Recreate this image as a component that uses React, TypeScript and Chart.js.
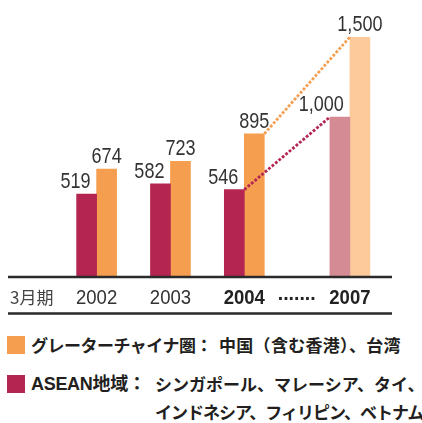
import React, { useEffect, useRef } from "react";
import { Chart, registerables } from "chart.js";

Chart.register(...registerables);

// ---- data ----
const categories = ["2002", "2003", "2004", "2007"];
const aseanValues = [519, 582, 546, 1000];
const chinaValues = [674, 723, 895, 1500];
const projected = [false, false, false, true];
const boldCategories = ["2004", "2007"];
const periodLabel = "3月期";
const gapLabel = ".......";
const chinaLegendHead = "グレーターチャイナ圏：";
const chinaLegendBody = "中国（含む香港）、台湾";
const aseanLegendHead = "ASEAN地域：";
const aseanLegendLine1 = "シンガポール、マレーシア、タイ、";
const aseanLegendLine2 = "インドネシア、フィリピン、ベトナム";

// ---- layout (x-scale slots, not data) ----
const SLOT = [1, 2, 3, 4.43];
const GAP_SLOT = 3.71;

const MAGENTA = "#B42551";
const ORANGE = "#F59E50";
const PINK = "#D48B93";
const PEACH = "#FDCB9B";
const TEXT = "#333333";
const AXIS = "#2a2a2a";

const overlay = {
  id: "overlay",
  afterDatasetsDraw(chart: any) {
    const { ctx, chartArea, scales } = chart;
    const xs = scales.x;
    const m0 = chart.getDatasetMeta(0).data.map((b: any) => b.getProps(["x", "y", "width"], true));
    const m1 = chart.getDatasetMeta(1).data.map((b: any) => b.getProps(["x", "y", "width"], true));
    const last = categories.length - 1;

    ctx.save();
    // dotted connectors
    const conn = (a: any, b: any, color: string) => {
      ctx.beginPath();
      ctx.setLineDash([2.8, 1.7]);
      ctx.lineWidth = 2.8;
      ctx.strokeStyle = color;
      ctx.moveTo(a.x + a.width / 2, a.y);
      ctx.lineTo(b.x - b.width / 2, b.y);
      ctx.stroke();
    };
    conn(m0[last - 1], m0[last], MAGENTA);
    conn(m1[last - 1], m1[last], ORANGE);
    ctx.setLineDash([]);

    // axis rules
    ctx.strokeStyle = AXIS;
    ctx.lineWidth = 2.5;
    const rule = (y: number) => {
      ctx.beginPath();
      ctx.moveTo(chartArea.left, y);
      ctx.lineTo(chartArea.right, y);
      ctx.stroke();
    };
    rule(chartArea.bottom);
    rule(chartArea.bottom + 36.5);

    const drawText = (t: string, px: number, py: number, align: string, font: string, color: string, sx: number) => {
      ctx.save();
      ctx.translate(px, py);
      ctx.scale(sx, 1);
      ctx.font = font;
      ctx.fillStyle = color;
      ctx.textAlign = align;
      ctx.textBaseline = "alphabetic";
      ctx.fillText(t, 0, 0);
      ctx.restore();
    };
    const fmt = (v: number) => v.toLocaleString("en-US");
    const numFont = '22px "Liberation Sans", Arial, sans-serif';

    // value labels
    m0.forEach((b: any, i: number) => {
      drawText(fmt(aseanValues[i]), b.x + b.width / 2 - 6, b.y - 6, "right", numFont, TEXT, 0.82);
    });
    m1.forEach((b: any, i: number) => {
      drawText(fmt(chinaValues[i]), b.x, b.y - 6, "center", numFont, TEXT, 0.82);
    });

    // category labels
    const baseY = chartArea.bottom + 27;
    categories.forEach((c, i) => {
      const bold = boldCategories.includes(c);
      drawText(
        c,
        xs.getPixelForValue(SLOT[i]),
        baseY,
        "center",
        (bold ? "bold " : "") + '19.5px "Liberation Sans", Arial, sans-serif',
        bold ? "#222" : TEXT,
        0.95
      );
    });
    drawText(periodLabel, chartArea.left + 2, baseY, "left", '17px "Noto Sans CJK JP", sans-serif', "#444", 1);
    drawText(gapLabel, xs.getPixelForValue(GAP_SLOT), baseY - 4, "center", 'bold 19.5px "Liberation Sans", Arial, sans-serif', "#222", 1);
    ctx.restore();
  },
};

const legendFont: React.CSSProperties = {
  position: "absolute",
  fontFamily: '"Noto Sans CJK JP", sans-serif',
  fontWeight: "bold",
  fontSize: 17,
  lineHeight: "17px",
  color: "#231f20",
  whiteSpace: "nowrap",
};

export default function App() {
  const ref = useRef<HTMLCanvasElement | null>(null);
  useEffect(() => {
    if (!ref.current) return;
    const chart = new Chart(ref.current, {
      type: "bar",
      data: {
        datasets: [
          {
            label: "ASEAN",
            data: categories.map((_, i) => ({ x: SLOT[i], y: aseanValues[i] })),
            backgroundColor: projected.map((p) => (p ? PINK : MAGENTA)),
            barThickness: 20,
          },
          {
            label: "GreaterChina",
            data: categories.map((_, i) => ({ x: SLOT[i], y: chinaValues[i] })),
            backgroundColor: projected.map((p) => (p ? PEACH : ORANGE)),
            barThickness: 20,
          },
        ],
      } as any,
      options: {
        responsive: false,
        animation: false,
        layout: { padding: { left: 8, right: 30, top: 37, bottom: 43 } },
        scales: {
          x: { type: "linear", display: false, min: -0.2, max: 5.0, offset: false },
          y: { display: false, min: 0, max: 1500 },
        },
        plugins: { legend: { display: false }, tooltip: { enabled: false } },
      } as any,
      plugins: [overlay as any],
    });
    return () => chart.destroy();
  }, []);

  return (
    <div style={{ position: "absolute", left: 0, top: 0, width: 422, height: 423, background: "#fff", overflow: "hidden" }}>
      <canvas ref={ref} width={422} height={320} style={{ display: "block", width: 422, height: 320 }} />
      <div style={{ position: "absolute", left: 7, top: 336, width: 18, height: 18, background: ORANGE }} />
      <div style={{ position: "absolute", left: 7, top: 375, width: 18, height: 18, background: MAGENTA }} />
      <span style={{ ...legendFont, left: 31, top: 336, letterSpacing: "-0.5px" }}>{chinaLegendHead}</span>
      <span style={{ ...legendFont, left: 219, top: 336, letterSpacing: "0.3px" }}>{chinaLegendBody}</span>
      <span
        style={{
          ...legendFont,
          fontFamily: '"Liberation Sans", "Noto Sans CJK JP", sans-serif',
          fontSize: 18,
          left: 31,
          top: 376,
          letterSpacing: "-0.3px",
        }}
      >
        {aseanLegendHead}
      </span>
      <span style={{ ...legendFont, left: 155, top: 375, letterSpacing: "0px" }}>{aseanLegendLine1}</span>
      <span style={{ ...legendFont, left: 155, top: 403, letterSpacing: "-1px" }}>{aseanLegendLine2}</span>
    </div>
  );
}
